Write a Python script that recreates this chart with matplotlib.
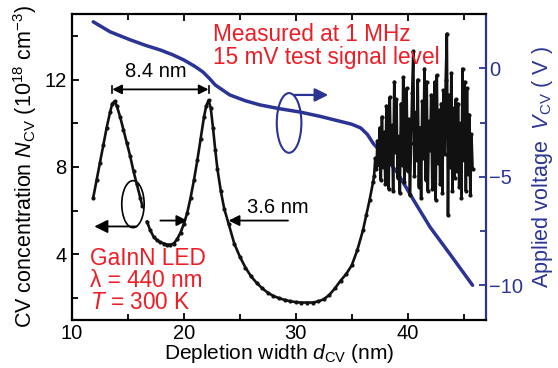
import matplotlib
matplotlib.use('Agg')
import matplotlib.pyplot as plt
from matplotlib.patches import Ellipse

plt.rcParams['font.family'] = ['Liberation Sans', 'DejaVu Sans']
plt.rcParams['mathtext.fontset'] = 'custom'
plt.rcParams['mathtext.rm'] = 'Liberation Sans'
plt.rcParams['mathtext.it'] = 'Liberation Sans:italic'

# CV concentration, first branch (left of the break)
d_cv_a = [11.9, 12.2, 12.5, 12.8, 13.1, 13.4, 13.6, 13.8, 14.0, 14.3, 14.6,
          14.9, 15.2, 15.5, 15.8, 16.1, 16.3]
n_cv_a = [6.6, 7.4, 8.2, 9.0, 9.8, 10.5, 10.9, 11.0, 10.8, 10.3, 9.7,
          9.1, 8.5, 7.8, 7.2, 6.6, 6.2]

# second branch, smooth part
d_cv_b = [16.7, 17.0, 17.3, 17.6, 17.9, 18.2, 18.5, 18.8, 19.1, 19.4, 19.7,
          20.0, 20.3, 20.6, 20.9, 21.2, 21.5, 21.8, 22.0, 22.2, 22.4, 22.6,
          22.8, 23.0, 23.3, 23.6, 24.0, 24.5, 25.0, 25.5, 26.0, 26.5, 27.0,
          27.5, 28.0, 28.5, 29.0, 29.5, 30.0, 30.5, 31.0, 31.5, 32.0, 32.5,
          33.0, 33.5, 34.0, 34.5, 35.0, 35.5, 36.0, 36.3, 36.6, 36.9]
n_cv_b = [5.5, 5.1, 4.8, 4.65, 4.55, 4.5, 4.45, 4.45, 4.5, 4.7, 5.0,
          5.4, 5.9, 6.6, 7.4, 8.3, 9.3, 10.3, 10.8, 11.05, 10.7, 9.8,
          8.8, 7.9, 6.9, 6.1, 5.4, 4.5, 3.9, 3.4, 3.0, 2.7, 2.45,
          2.25, 2.1, 2.0, 1.92, 1.86, 1.82, 1.8, 1.8, 1.8, 1.85, 1.95,
          2.15, 2.45, 2.8, 3.1, 3.5, 4.2, 5.1, 5.8, 6.5, 7.3]

# noisy tail
d_cv_c = [37.0, 37.1, 37.2, 37.3, 37.4, 37.5, 37.6, 37.7, 37.8, 37.9,
          38.0, 38.1, 38.2, 38.3, 38.4, 38.5, 38.6, 38.7, 38.8, 38.9,
          39.0, 39.1, 39.2, 39.3, 39.4, 39.5, 39.6, 39.7, 39.8, 39.9,
          40.0, 40.1, 40.2, 40.3, 40.4, 40.5, 40.6, 40.7, 40.8, 40.9,
          41.0, 41.1, 41.2, 41.3, 41.4, 41.5, 41.6, 41.7, 41.8, 41.9,
          42.0, 42.1, 42.2, 42.3, 42.4, 42.5, 42.6, 42.7, 42.8, 42.9,
          43.0, 43.1, 43.2, 43.3, 43.4, 43.5, 43.6, 43.7, 43.8, 43.9,
          44.0, 44.1, 44.2, 44.3, 44.4, 44.5, 44.6, 44.7, 44.8, 44.9,
          45.0, 45.1, 45.2, 45.3, 45.4, 45.5, 45.6, 45.7, 45.8]
n_cv_c = [7.6, 8.4, 7.9, 9.2, 8.1, 9.8, 7.4, 10.3, 8.0, 9.6,
          7.2, 10.8, 8.5, 7.0, 11.2, 8.2, 9.9, 6.9, 11.9, 8.7,
          11.1, 7.5, 9.4, 6.8, 10.9, 8.1, 12.1, 7.3, 9.7, 11.6,
          7.8, 10.2, 6.7, 9.1, 11.4, 13.3, 7.6, 10.5, 8.3, 12.0,
          7.1, 9.8, 6.6, 11.0, 8.4, 12.5, 7.4, 11.9, 6.9, 10.1,
          8.8, 11.3, 7.0, 9.5, 11.9, 6.5, 12.2, 8.2, 10.6, 7.2,
          10.9, 6.8, 11.5, 8.6, 12.0, 14.1, 5.8, 11.3, 8.0, 12.3,
          6.9, 10.7, 7.5, 11.1, 7.8, 10.9, 7.1, 10.0, 6.6, 12.5,
          8.3, 11.9, 6.9, 11.6, 7.7, 10.4, 6.7, 9.5, 7.9]

# applied voltage
d_v = [11.9, 13.4, 15.2, 16.6, 17.9, 19.0, 20.0, 21.0, 21.7, 22.3, 22.8,
       24.1, 25.5, 26.8, 28.5, 30.4, 32.2, 34.0, 35.0, 35.8, 36.4, 36.9,
       38.0, 39.1, 40.5, 42.0, 43.9, 45.8]
v_cv = [2.14, 1.68, 1.31, 1.05, 0.84, 0.62, 0.38, 0.08, -0.17, -0.48, -0.77,
        -1.23, -1.5, -1.69, -1.86, -2.02, -2.22, -2.45, -2.58, -2.75, -3.05, -3.45,
        -4.1, -4.83, -6.05, -7.32, -8.65, -10.0]

blue = '#2b3494'
red = '#ee1c25'

fig = plt.figure(figsize=(5.58, 3.68), dpi=100)
ax = fig.add_axes([0.129, 0.1304, 0.742, 0.8316])
ax2 = ax.twinx()

ax.set_zorder(2)
ax.patch.set_visible(False)

for d, n in [(d_cv_a, n_cv_a), (d_cv_b, n_cv_b), (d_cv_c, n_cv_c)]:
    ax.plot(d, n, '-o', color='#111111', lw=1.9, ms=3.0, mew=0)
ax.plot([d_cv_b[-1], d_cv_c[0]], [n_cv_b[-1], n_cv_c[0]], '-', color='#111111', lw=1.9)

ax2.plot(d_v, v_cv, '-', color=blue, lw=2.5, solid_capstyle='round')

ax.set_xlim(10, 47)
ax.set_ylim(1, 15)
ax2.set_ylim(-11.6, 2.5)

ax.set_xticks([10, 20, 30, 40])
ax.set_xticks([15, 25, 35, 45], minor=True)
ax.set_yticks([4, 8, 12])
ax.set_yticks([2, 6, 10, 14], minor=True)
ax2.set_yticks([0, -5, -10])
ax2.set_yticks([-2.5, -7.5], minor=True)

fs = 14.5
ax.tick_params(which='both', direction='in', top=True, labelsize=fs, width=1.3,
               pad=4)
ax.tick_params(axis='x', pad=3)
ax.tick_params(which='major', length=5)
ax.tick_params(which='minor', length=4)
ax2.tick_params(which='both', direction='in', colors=blue, labelsize=fs,
                width=1.3, pad=2)
ax2.tick_params(which='major', length=5)
ax2.tick_params(which='minor', length=4)

for s in ['left', 'top', 'bottom']:
    ax.spines[s].set_linewidth(1.6)
ax.spines['right'].set_visible(False)
for s in ['left', 'top', 'bottom']:
    ax2.spines[s].set_visible(False)
ax2.spines['right'].set_color(blue)
ax2.spines['right'].set_linewidth(1.6)

lfs = 15.5
ax.set_xlabel(r'Depletion width $d_{\rm CV}$ (nm)', fontsize=15, labelpad=-0.5)
ax.set_ylabel(r'CV concentration $N_{\rm CV}$ (10$^{18}$ cm$^{-3}$)',
              fontsize=lfs, labelpad=4)
ax2.set_ylabel(r'Applied voltage  $V_{\rm CV}$ ( V )', fontsize=lfs,
               color=blue, labelpad=5)

# annotations
rfs = 16.3
ax.text(22.6, 14.07, 'Measured at 1 MHz', color=red, fontsize=rfs,
        ha='left', va='center')
ax.text(22.6, 13.02, '15 mV test signal level', color=red, fontsize=rfs,
        ha='left', va='center')
ax.text(11.6, 3.82, 'GaInN LED', color=red, fontsize=rfs, ha='left', va='center')
ax.text(11.6, 2.82, 'λ = 440 nm', color=red, fontsize=rfs, ha='left', va='center')
ax.text(11.6, 1.81, r'$T$ = 300 K', color=red, fontsize=rfs, ha='left', va='center')

ax.text(17.5, 12.36, '8.4 nm', fontsize=14.5, ha='center', va='center')
ax.text(25.65, 6.14, '3.6 nm', fontsize=14.5, ha='left', va='center')

arrow_kw = dict(arrowstyle='-|>', color='black', lw=1.3, mutation_scale=16,
                shrinkA=0, shrinkB=0)
ax.annotate('', xy=(13.6, 11.55), xytext=(22.2, 11.55),
            arrowprops=dict(arrowstyle='<|-|>', color='black', lw=1.3,
                            mutation_scale=14, shrinkA=0, shrinkB=0))
ax.plot([13.6, 13.6], [11.4, 11.72], color='black', lw=1.2)
ax.plot([22.2, 22.2], [11.4, 11.72], color='black', lw=1.2)

ax.annotate('', xy=(20.3, 5.55), xytext=(17.9, 5.55), arrowprops=arrow_kw)
ax.annotate('', xy=(24.0, 5.55), xytext=(29.3, 5.55), arrowprops=arrow_kw)
ax.annotate('', xy=(12.0, 5.28), xytext=(15.8, 5.28),
            arrowprops=dict(arrow_kw, mutation_scale=20))
ax.add_patch(Ellipse((15.45, 6.3), 2.0, 2.15, fill=False, ec='black', lw=1.2))

ax2.add_patch(Ellipse((29.4, -2.52), 2.2, 2.75, fill=False, ec=blue, lw=1.5))
ax2.annotate('', xy=(32.9, -1.23), xytext=(29.9, -1.23),
             arrowprops=dict(arrowstyle='-|>', color=blue, lw=1.6,
                             mutation_scale=20, shrinkA=0, shrinkB=0))

fig.savefig('out.png', dpi=100)
